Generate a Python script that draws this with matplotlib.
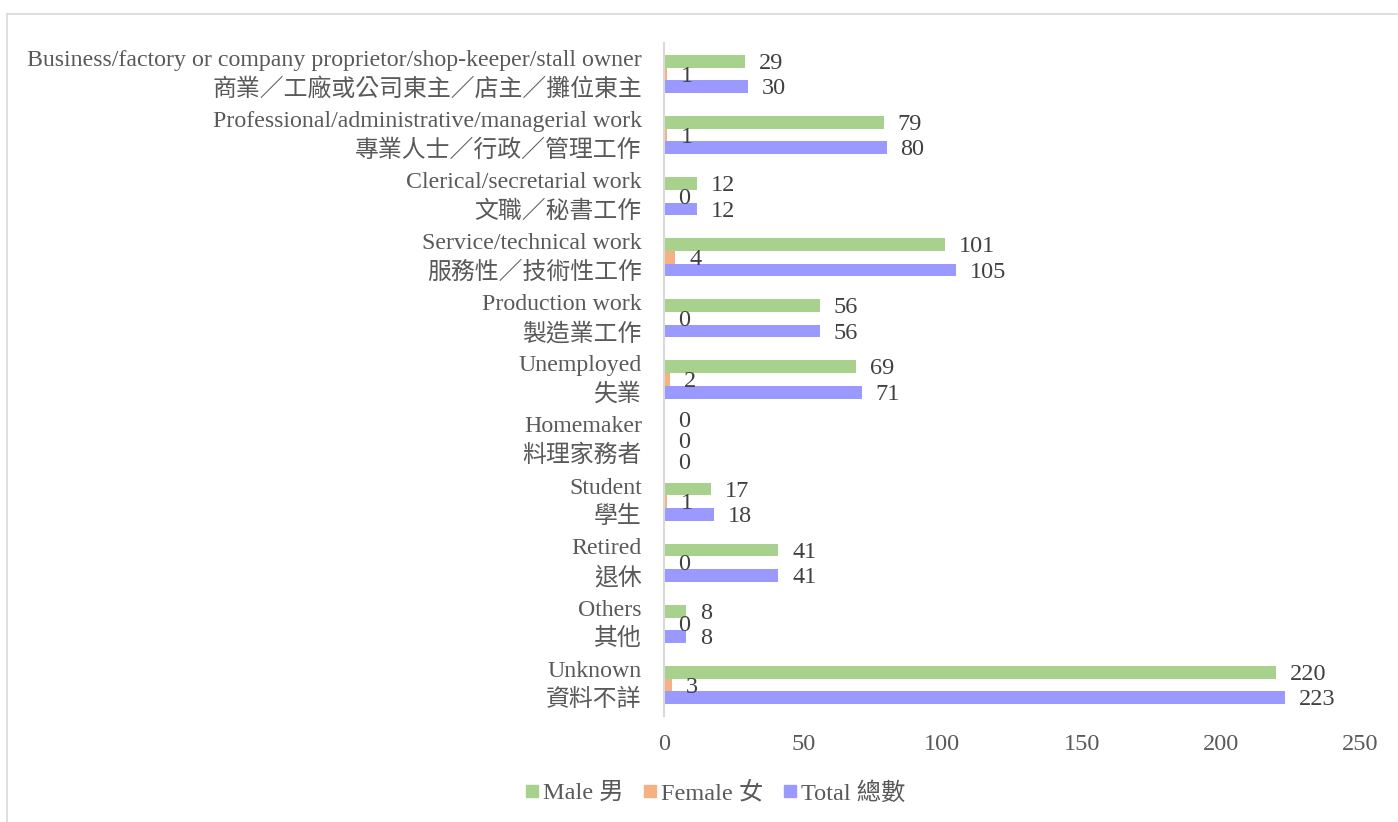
import matplotlib
matplotlib.use("Agg")
import matplotlib.pyplot as plt
import matplotlib.transforms as mtransforms
import numpy as np
from matplotlib.lines import Line2D

plt.rcParams['font.family'] = ['Liberation Serif', 'Noto Sans CJK TC']

categories_en = [
    "Business/factory or company proprietor/shop-keeper/stall owner",
    "Professional/administrative/managerial work",
    "Clerical/secretarial work",
    "Service/technical work",
    "Production work",
    "Unemployed",
    "Homemaker",
    "Student",
    "Retired",
    "Others",
    "Unknown",
]
categories_zh = [
    "商業／工廠或公司東主／店主／攤位東主",
    "專業人士／行政／管理工作",
    "文職／秘書工作",
    "服務性／技術性工作",
    "製造業工作",
    "失業",
    "料理家務者",
    "學生",
    "退休",
    "其他",
    "資料不詳",
]
male = [29, 79, 12, 101, 56, 69, 0, 17, 41, 8, 220]
female = [1, 1, 0, 4, 0, 2, 0, 1, 0, 0, 3]
total = [30, 80, 12, 105, 56, 71, 0, 18, 41, 8, 223]
x_ticks = [0, 50, 100, 150, 200, 250]

series = [("Male 男", male, "#A9D18E"),
          ("Female 女", female, "#F4B183"),
          ("Total 總數", total, "#9999FF")]

W, H = 1398, 822
fig = plt.figure(figsize=(W / 100, H / 100), dpi=100)
ax = fig.add_axes([664 / W, 1 - 715.5 / H, (1360 - 664) / W, (715.5 - 43.5) / H])

n = len(categories_en)
y = np.arange(n)
bh = 0.208
offsets = [-bh, 0, bh]
label_color = "#404040"
for (name, vals, col), off in zip(series, offsets):
    ax.barh(y + off, vals, height=bh, color=col, label=name)

for i in range(n):
    allzero = male[i] == 0 and female[i] == 0 and total[i] == 0
    for j, ((name, vals, col), off) in enumerate(zip(series, offsets)):
        dy = -1.5
        if allzero:
            dy = [4.5, -1.5, -7.5][j]
        ax.annotate(str(vals[i]), xy=(vals[i], y[i] + off), xytext=(10, dy),
                    textcoords="offset points", ha="left", va="center",
                    fontsize=17.5, color=label_color)

ax.set_ylim(n - 0.5, -0.5)
ax.set_xlim(0, 250)
ax.set_xticks(x_ticks)
ax.set_xticklabels([str(t) for t in x_ticks])
ax.set_yticks(y)
ax.set_yticklabels([f"{e}\n{z}" for e, z in zip(categories_en, categories_zh)],
                   linespacing=1.42)
ax.tick_params(axis="y", length=0, pad=16, labelsize=17.2, labelcolor="#595959")
ax.tick_params(axis="x", length=0, pad=13, labelsize=17.5, labelcolor="#595959")
shift = mtransforms.ScaledTranslation(0, 5 / 100, fig.dpi_scale_trans)
for lbl in ax.get_yticklabels():
    lbl.set_transform(lbl.get_transform() + shift)
for s in ["top", "right", "bottom"]:
    ax.spines[s].set_visible(False)
ax.spines["left"].set_color("#D9D9D9")
ax.spines["left"].set_linewidth(1.5)

handles = [Line2D([], [], marker="s", linestyle="none", markersize=8,
                  markerfacecolor=c, markeredgecolor=c, label=nm)
           for nm, _, c in series]
leg = fig.legend(handles=handles, loc="center", bbox_to_anchor=(711 / W, 1 - 793 / H),
                 ncol=3, frameon=False, fontsize=17.5, handletextpad=-0.15,
                 handlelength=1.2, columnspacing=0.5, labelcolor="#595959")

# chart border (top and left visible)
fig.add_artist(Line2D([7 / W, 1397 / W], [1 - 14 / H, 1 - 14 / H],
                      transform=fig.transFigure, color="#D9D9D9", lw=1.2))
fig.add_artist(Line2D([7 / W, 7 / W], [1 - 14 / H, 0],
                      transform=fig.transFigure, color="#D9D9D9", lw=1.2))

fig.savefig("out.png", dpi=100)
